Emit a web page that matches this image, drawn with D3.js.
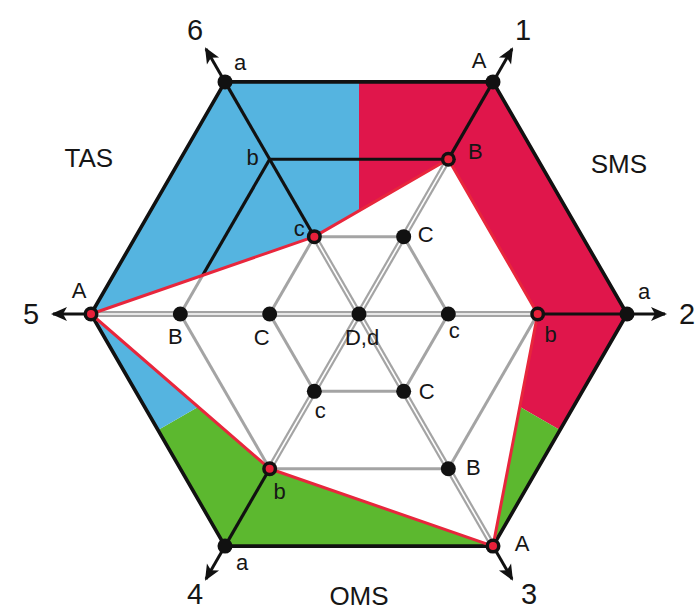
<!DOCTYPE html>
<html>
<head>
<meta charset="utf-8">
<script src="https://cdn.jsdelivr.net/npm/d3@7"></script>
<style>
    html, body { margin: 0; padding: 0; background: #ffffff; }
    svg { display: block; }
    text { font-family: "Liberation Sans", Arial, sans-serif; fill: #161616; }
</style>
</head>
<body>
<div id="chart"></div>
<script>
// axes 1..6, angle in degrees (counter-clockwise from east)
const axisLabels = ['1', '2', '3', '4', '5', '6'];
const axisAngles = [60, 0, -60, -120, 180, 120];
// point letters per axis for levels 3, 2, 1
const axisLetters = [
    ['A', 'B', 'C'],
    ['a', 'b', 'c'],
    ['A', 'B', 'C'],
    ['a', 'b', 'c'],
    ['A', 'B', 'C'],
    ['a', 'b', 'c']
];
// profile level reached on each axis (3 = outer, 0 = centre)
const profileLevels = [2, 2, 3, 2, 3, 1];
// points without a dot: [axis, level]
const hiddenDots = [[5, 2]];
const centerLabel = 'D,d';

const sectorNames = ['SMS', 'OMS', 'TAS'];
const sectorFrom = [-30, 210, 90];
const sectorTo = [90, 330, 210];
const sectorColors = ['#e0164b', '#5cb82f', '#55b4e0'];

// label placement (pixel offsets from each point), kept apart from the data
const labelOffsets = {
    '0-3': [-14, -21], '0-2': [27, -8], '0-1': [22, -2],
    '1-3': [17, -23], '1-2': [13, 20], '1-1': [6, 16],
    '2-3': [29, -3], '2-2': [25, -1], '2-1': [23, 0],
    '3-3': [17, 16], '3-2': [10, 23], '3-1': [6, 19],
    '4-3': [-12, -24], '4-2': [-5, 22], '4-1': [-8, 23],
    '5-3': [15, -19], '5-2': [-17, -2], '5-1': [-15, -8]
};
const sectorLabelRadius = [300, 282, 312];

const width = 699;
const height = 613;
const cx = 359;
const cy = 314;
const R = 268;

const rScale = d3.scaleLinear().domain([0, 3]).range([0, R]);
const rad = (deg) => deg * Math.PI / 180;
function pt(axis, level, r) {
    const rr = r !== undefined ? r : rScale(level);
    const a = rad(axisAngles[axis]);
    return [cx + rr * Math.cos(a), cy - rr * Math.sin(a)];
}

const svg = d3.select('#chart').append('svg')
    .attr('width', width)
    .attr('height', height);

const defs = svg.append('defs');
const hexPoints = axisAngles.map((_, i) => pt(i, 3));
const profilePoints = profileLevels.map((lv, i) => pt(i, lv));
const line = d3.line();

defs.append('clipPath').attr('id', 'hex-clip')
    .append('path').attr('d', line(hexPoints) + 'Z');
defs.append('clipPath').attr('id', 'inside-clip')
    .append('path').attr('d', line(profilePoints) + 'Z');
const mask = defs.append('mask').attr('id', 'outside-mask')
    .attr('maskUnits', 'userSpaceOnUse')
    .attr('x', 0).attr('y', 0).attr('width', width).attr('height', height);
mask.append('rect').attr('width', width).attr('height', height).attr('fill', '#fff');
mask.append('path').attr('d', line(profilePoints) + 'Z').attr('fill', '#000');

defs.append('marker')
    .attr('id', 'arrow')
    .attr('markerUnits', 'userSpaceOnUse')
    .attr('viewBox', '-2 -8 20 16')
    .attr('markerWidth', 20).attr('markerHeight', 16)
    .attr('refX', 14).attr('refY', 0)
    .attr('orient', 'auto')
    .append('path')
    .attr('d', 'M0,-7 L16,0 L0,7 L4,0 Z')
    .attr('fill', '#111');

// Sector fills
const arc = d3.arc().innerRadius(0).outerRadius(420);
svg.append('g')
    .attr('clip-path', 'url(#hex-clip)')
    .selectAll('path')
    .data(sectorNames)
    .join('path')
    .attr('transform', `translate(${cx},${cy})`)
    .attr('d', (d, i) => arc({
        startAngle: rad(90 - sectorTo[i]),
        endAngle: rad(90 - sectorFrom[i])
    }))
    .attr('fill', (d, i) => sectorColors[i]);

// White profile polygon
svg.append('path')
    .attr('d', line(profilePoints) + 'Z')
    .attr('fill', '#ffffff');

// Lattice segments
const diameters = [0, 1, 2].map((i) => [pt(i, 3), pt(i + 3, 3)]);
function ring(level) {
    return d3.range(6).map((i) => ({
        a: [i, level], b: [(i + 1) % 6, level],
        seg: [pt(i, level), pt((i + 1) % 6, level)]
    }));
}
const isProfile = (p) => profileLevels[p[0]] === p[1];
const ring1 = ring(1).filter((e) => !(isProfile(e.a) && isProfile(e.b)));
const ring2 = ring(2).filter((e) => !(isProfile(e.a) && isProfile(e.b)));

// gray parts inside the profile
const inner = svg.append('g').attr('clip-path', 'url(#inside-clip)');
inner.selectAll('line.ring')
    .data(ring1.concat(ring2))
    .join('line')
    .attr('class', 'ring')
    .attr('x1', (d) => d.seg[0][0]).attr('y1', (d) => d.seg[0][1])
    .attr('x2', (d) => d.seg[1][0]).attr('y2', (d) => d.seg[1][1])
    .attr('stroke', '#a4a4a4')
    .attr('stroke-width', 3);
inner.selectAll('line.axis-outer')
    .data(diameters)
    .join('line')
    .attr('class', 'axis-outer')
    .attr('x1', (d) => d[0][0]).attr('y1', (d) => d[0][1])
    .attr('x2', (d) => d[1][0]).attr('y2', (d) => d[1][1])
    .attr('stroke', '#a4a4a4')
    .attr('stroke-width', 6);
inner.selectAll('line.axis-inner')
    .data(diameters)
    .join('line')
    .attr('class', 'axis-inner')
    .attr('x1', (d) => d[0][0]).attr('y1', (d) => d[0][1])
    .attr('x2', (d) => d[1][0]).attr('y2', (d) => d[1][1])
    .attr('stroke', '#ffffff')
    .attr('stroke-width', 1.6);

// black parts outside the profile
const outer = svg.append('g').attr('mask', 'url(#outside-mask)');
outer.selectAll('line')
    .data(diameters.concat(ring2.map((e) => e.seg)))
    .join('line')
    .attr('x1', (d) => d[0][0]).attr('y1', (d) => d[0][1])
    .attr('x2', (d) => d[1][0]).attr('y2', (d) => d[1][1])
    .attr('stroke', '#111')
    .attr('stroke-width', 3.2);

// Outer hexagon
svg.append('path')
    .attr('d', line(hexPoints) + 'Z')
    .attr('fill', 'none')
    .attr('stroke', '#111')
    .attr('stroke-width', 3.6)
    .attr('stroke-linejoin', 'round');

// Red profile outline
svg.append('path')
    .attr('d', line(profilePoints) + 'Z')
    .attr('fill', 'none')
    .attr('stroke', '#e8263c')
    .attr('stroke-width', 3)
    .attr('stroke-linejoin', 'round');

// Arrows from each outer vertex
svg.append('g').selectAll('line')
    .data(axisLabels)
    .join('line')
    .attr('x1', (d, i) => pt(i, 3)[0]).attr('y1', (d, i) => pt(i, 3)[1])
    .attr('x2', (d, i) => pt(i, 0, R + 38)[0]).attr('y2', (d, i) => pt(i, 0, R + 38)[1])
    .attr('stroke', '#111')
    .attr('stroke-width', 3)
    .attr('marker-end', 'url(#arrow)');

// Axis number labels
svg.append('g').selectAll('text')
    .data(axisLabels)
    .join('text')
    .attr('x', (d, i) => pt(i, 0, 328)[0] + (i === 2 ? 6 : 0))
    .attr('y', (d, i) => pt(i, 0, 328)[1] - ([2, 3].includes(i) ? 4 : 0))
    .attr('text-anchor', 'middle')
    .attr('dominant-baseline', 'central')
    .attr('font-size', 29)
    .text((d) => d);

// Sector labels
svg.append('g').selectAll('text')
    .data(sectorNames)
    .join('text')
    .attr('x', (d, i) => cx + sectorLabelRadius[i] * Math.cos(rad((sectorFrom[i] + sectorTo[i]) / 2)))
    .attr('y', (d, i) => cy - sectorLabelRadius[i] * Math.sin(rad((sectorFrom[i] + sectorTo[i]) / 2)))
    .attr('text-anchor', 'middle')
    .attr('dominant-baseline', 'central')
    .attr('font-size', 26)
    .text((d) => d);

// Points
const points = [];
axisLetters.forEach((letters, axis) => {
    letters.forEach((letter, k) => {
        const level = 3 - k;
        points.push({ axis, level, letter, key: `${axis}-${level}` });
    });
});
const hidden = new Set(hiddenDots.map((p) => `${p[0]}-${p[1]}`));
const dotted = points.filter((p) => !hidden.has(p.key));

const dots = svg.append('g');
dots.selectAll('circle.dot')
    .data(dotted)
    .join('circle')
    .attr('class', 'dot')
    .attr('cx', (d) => pt(d.axis, d.level)[0])
    .attr('cy', (d) => pt(d.axis, d.level)[1])
    .attr('r', 7.5)
    .attr('fill', '#111');
dots.selectAll('circle.hit')
    .data(dotted.filter((d) => profileLevels[d.axis] === d.level))
    .join('circle')
    .attr('class', 'hit')
    .attr('cx', (d) => pt(d.axis, d.level)[0])
    .attr('cy', (d) => pt(d.axis, d.level)[1])
    .attr('r', 4)
    .attr('fill', '#e8203a');
dots.append('circle')
    .attr('cx', cx).attr('cy', cy)
    .attr('r', 7.5)
    .attr('fill', '#111');

// Point labels
const labels = svg.append('g');
labels.selectAll('text')
    .data(points)
    .join('text')
    .attr('x', (d) => pt(d.axis, d.level)[0] + labelOffsets[d.key][0])
    .attr('y', (d) => pt(d.axis, d.level)[1] + labelOffsets[d.key][1])
    .attr('text-anchor', 'middle')
    .attr('dominant-baseline', 'central')
    .attr('font-size', 22)
    .text((d) => d.letter);
labels.append('text')
    .attr('x', cx + 3)
    .attr('y', cy + 23)
    .attr('text-anchor', 'middle')
    .attr('dominant-baseline', 'central')
    .attr('font-size', 22)
    .text(centerLabel);
</script>
</body>
</html>
